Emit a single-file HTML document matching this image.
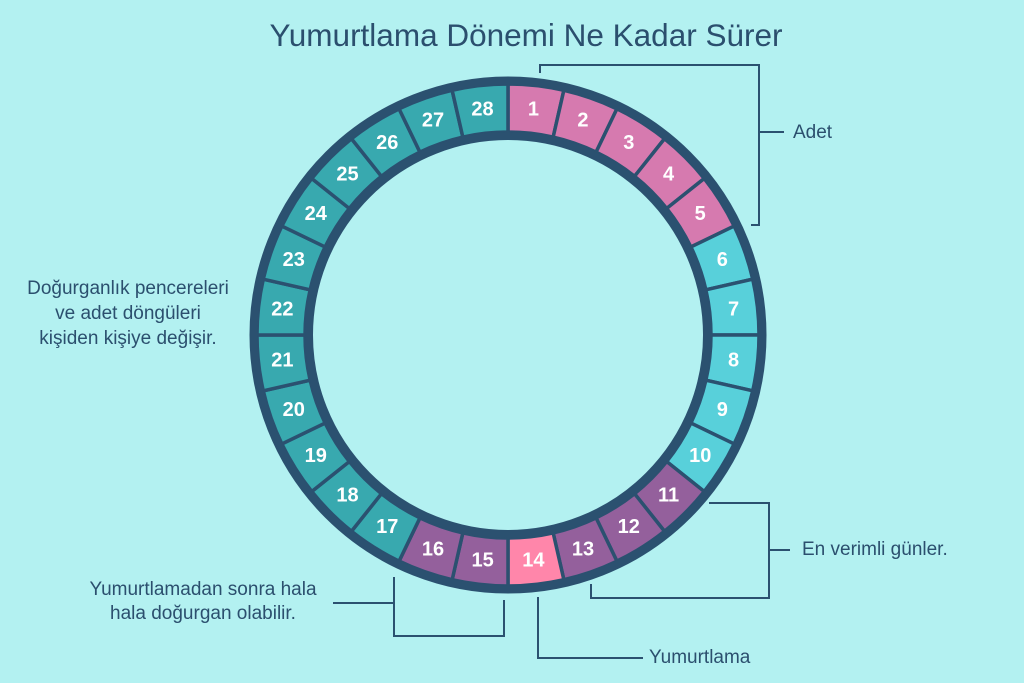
<!DOCTYPE html>
<html><head><meta charset="utf-8"><style>
html,body{margin:0;padding:0;background:#b3f1f1;}
svg{display:block}
text{font-family:"Liberation Sans","DejaVu Sans",sans-serif;}
.n{fill:#fff;font-weight:bold;font-size:20px;text-anchor:middle;dominant-baseline:central}
.l{fill:#2b4f6e;font-size:19px}
</style></head><body>
<svg width="1024" height="683" viewBox="0 0 1024 683" xmlns="http://www.w3.org/2000/svg">
<rect width="1024" height="683" fill="#b3f1f1"/>
<text x="526" y="46" text-anchor="middle" fill="#2b4f6e" font-size="31.5">Yumurtlama Dönemi Ne Kadar Sürer</text>
<defs><path id="s" d="M0,-251 A251,251 0 0 1 55.85,-244.7 L45.17,-197.9 A203,203 0 0 0 0,-203 Z" stroke="#2b5170" stroke-width="3.5"/></defs>
<g transform="translate(508,335)">
<g transform="rotate(0)"><use href="#s" fill="#d67aaf"/><text class="n" x="25.4" y="-225.6" transform="rotate(0 25.4 -225.6)">1</text></g>
<g transform="rotate(12.857)"><use href="#s" fill="#d67aaf"/><text class="n" x="25.4" y="-225.6" transform="rotate(-12.857 25.4 -225.6)">2</text></g>
<g transform="rotate(25.714)"><use href="#s" fill="#d67aaf"/><text class="n" x="25.4" y="-225.6" transform="rotate(-25.714 25.4 -225.6)">3</text></g>
<g transform="rotate(38.571)"><use href="#s" fill="#d67aaf"/><text class="n" x="25.4" y="-225.6" transform="rotate(-38.571 25.4 -225.6)">4</text></g>
<g transform="rotate(51.429)"><use href="#s" fill="#d67aaf"/><text class="n" x="25.4" y="-225.6" transform="rotate(-51.429 25.4 -225.6)">5</text></g>
<g transform="rotate(64.286)"><use href="#s" fill="#58d0da"/><text class="n" x="25.4" y="-225.6" transform="rotate(-64.286 25.4 -225.6)">6</text></g>
<g transform="rotate(77.143)"><use href="#s" fill="#58d0da"/><text class="n" x="25.4" y="-225.6" transform="rotate(-77.143 25.4 -225.6)">7</text></g>
<g transform="rotate(90)"><use href="#s" fill="#58d0da"/><text class="n" x="25.4" y="-225.6" transform="rotate(-90 25.4 -225.6)">8</text></g>
<g transform="rotate(102.857)"><use href="#s" fill="#58d0da"/><text class="n" x="25.4" y="-225.6" transform="rotate(-102.857 25.4 -225.6)">9</text></g>
<g transform="rotate(115.714)"><use href="#s" fill="#58d0da"/><text class="n" x="25.4" y="-225.6" transform="rotate(-115.714 25.4 -225.6)">10</text></g>
<g transform="rotate(128.571)"><use href="#s" fill="#94609c"/><text class="n" x="25.4" y="-225.6" transform="rotate(-128.571 25.4 -225.6)">11</text></g>
<g transform="rotate(141.429)"><use href="#s" fill="#94609c"/><text class="n" x="25.4" y="-225.6" transform="rotate(-141.429 25.4 -225.6)">12</text></g>
<g transform="rotate(154.286)"><use href="#s" fill="#94609c"/><text class="n" x="25.4" y="-225.6" transform="rotate(-154.286 25.4 -225.6)">13</text></g>
<g transform="rotate(167.143)"><use href="#s" fill="#ff86aa"/><text class="n" x="25.4" y="-225.6" transform="rotate(-167.143 25.4 -225.6)">14</text></g>
<g transform="rotate(180)"><use href="#s" fill="#94609c"/><text class="n" x="25.4" y="-225.6" transform="rotate(-180 25.4 -225.6)">15</text></g>
<g transform="rotate(192.857)"><use href="#s" fill="#94609c"/><text class="n" x="25.4" y="-225.6" transform="rotate(-192.857 25.4 -225.6)">16</text></g>
<g transform="rotate(205.714)"><use href="#s" fill="#38a9af"/><text class="n" x="25.4" y="-225.6" transform="rotate(-205.714 25.4 -225.6)">17</text></g>
<g transform="rotate(218.571)"><use href="#s" fill="#38a9af"/><text class="n" x="25.4" y="-225.6" transform="rotate(-218.571 25.4 -225.6)">18</text></g>
<g transform="rotate(231.429)"><use href="#s" fill="#38a9af"/><text class="n" x="25.4" y="-225.6" transform="rotate(-231.429 25.4 -225.6)">19</text></g>
<g transform="rotate(244.286)"><use href="#s" fill="#38a9af"/><text class="n" x="25.4" y="-225.6" transform="rotate(-244.286 25.4 -225.6)">20</text></g>
<g transform="rotate(257.143)"><use href="#s" fill="#38a9af"/><text class="n" x="25.4" y="-225.6" transform="rotate(-257.143 25.4 -225.6)">21</text></g>
<g transform="rotate(270)"><use href="#s" fill="#38a9af"/><text class="n" x="25.4" y="-225.6" transform="rotate(-270 25.4 -225.6)">22</text></g>
<g transform="rotate(282.857)"><use href="#s" fill="#38a9af"/><text class="n" x="25.4" y="-225.6" transform="rotate(-282.857 25.4 -225.6)">23</text></g>
<g transform="rotate(295.714)"><use href="#s" fill="#38a9af"/><text class="n" x="25.4" y="-225.6" transform="rotate(-295.714 25.4 -225.6)">24</text></g>
<g transform="rotate(308.571)"><use href="#s" fill="#38a9af"/><text class="n" x="25.4" y="-225.6" transform="rotate(-308.571 25.4 -225.6)">25</text></g>
<g transform="rotate(321.429)"><use href="#s" fill="#38a9af"/><text class="n" x="25.4" y="-225.6" transform="rotate(-321.429 25.4 -225.6)">26</text></g>
<g transform="rotate(334.286)"><use href="#s" fill="#38a9af"/><text class="n" x="25.4" y="-225.6" transform="rotate(-334.286 25.4 -225.6)">27</text></g>
<g transform="rotate(347.143)"><use href="#s" fill="#38a9af"/><text class="n" x="25.4" y="-225.6" transform="rotate(-347.143 25.4 -225.6)">28</text></g>
<circle r="254.5" fill="none" stroke="#2b5170" stroke-width="8"/>
<circle r="199" fill="none" stroke="#2b5170" stroke-width="8"/>
</g>
<g fill="none" stroke="#2b5170" stroke-width="2">
<polyline points="540,73 540,65 759,65 759,225 751,225"/>
<line x1="759" y1="132" x2="784" y2="132"/>
<polyline points="709,503 769,503 769,598 591,598 591,584"/>
<line x1="769" y1="550" x2="790" y2="550"/>
<polyline points="538,597 538,658 643,658"/>
<polyline points="394,577 394,636 504,636 504,600"/>
<line x1="333" y1="603" x2="394" y2="603"/>
</g>
<text class="l" x="793" y="138">Adet</text>
<text class="l" x="802" y="555">En verimli günler.</text>
<text class="l" x="649" y="663">Yumurtlama</text>
<text class="l" x="128" y="294" text-anchor="middle">Doğurganlık pencereleri</text>
<text class="l" x="128" y="319" text-anchor="middle">ve adet döngüleri</text>
<text class="l" x="128" y="344" text-anchor="middle">kişiden kişiye değişir.</text>
<text class="l" x="203" y="595" text-anchor="middle">Yumurtlamadan sonra hala</text>
<text class="l" x="203" y="619" text-anchor="middle">hala doğurgan olabilir.</text>
</svg>
</body></html>
